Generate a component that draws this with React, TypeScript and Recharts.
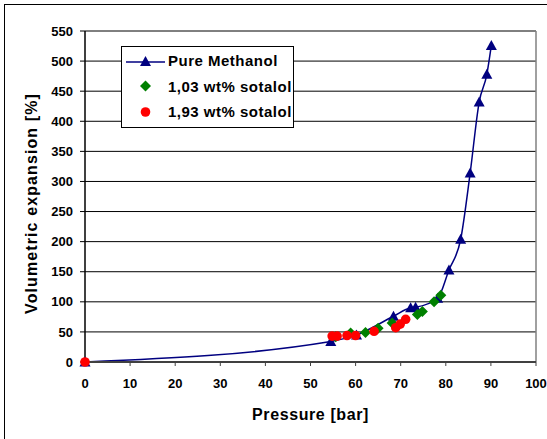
import {
  ComposedChart,
  Line,
  Scatter,
  XAxis,
  YAxis,
  CartesianGrid,
  Legend,
  ReferenceLine,
} from "recharts";

const xTicks = [0, 10, 20, 30, 40, 50, 60, 70, 80, 90, 100];
const yTicks = [0, 50, 100, 150, 200, 250, 300, 350, 400, 450, 500, 550];

// Pure Methanol
const methanolPressure = [0, 54.5, 60.2, 68.4, 72.2, 73.3, 78.2, 80.7, 83.3, 85.4, 87.4, 89.1, 90.1];
const methanolExpansion = [0, 34, 45, 76, 90, 91, 106, 153, 204, 314, 432, 478, 526];

// 1,03 wt% sotalol
const sot103Pressure = [55.6, 58.9, 62.2, 65.0, 68.1, 73.7, 74.8, 77.4, 78.9];
const sot103Expansion = [42, 48, 49, 56, 65, 79, 84, 100, 111];

// 1,93 wt% sotalol
const sot193Pressure = [0, 54.8, 55.9, 58.1, 60.0, 64.1, 68.9, 69.9, 71.1];
const sot193Expansion = [0, 43, 43, 44, 44, 51, 57, 63, 71];

const NAVY = "#000080";
const GREEN = "#008000";
const RED = "#ff0000";
const FONT = "Arial, 'Liberation Sans', sans-serif";

const toPoints = (xs: number[], ys: number[]) => xs.map((x, i) => ({ x, y: ys[i] }));

const methanol = toPoints(methanolPressure, methanolExpansion);
const sot103 = toPoints(sot103Pressure, sot103Expansion);
const sot193 = toPoints(sot193Pressure, sot193Expansion);

function Triangle({ cx, cy }: { cx?: number; cy?: number }) {
  if (cx == null || cy == null) return null;
  return <polygon points={`${cx},${cy - 5.5} ${cx + 5.5},${cy + 4.5} ${cx - 5.5},${cy + 4.5}`} fill={NAVY} />;
}

function Diamond({ cx, cy }: { cx?: number; cy?: number }) {
  if (cx == null || cy == null) return <g />;
  return <polygon points={`${cx},${cy - 5.5} ${cx + 5.5},${cy} ${cx},${cy + 5.5} ${cx - 5.5},${cy}`} fill={GREEN} />;
}

function Dot({ cx, cy }: { cx?: number; cy?: number }) {
  if (cx == null || cy == null) return <g />;
  return <circle cx={cx} cy={cy} r={4.8} fill={RED} />;
}

function LegendBox() {
  const row = { display: "flex", alignItems: "center", height: 25.5 } as const;
  const text = { fontFamily: FONT, fontWeight: 700, fontSize: 15, letterSpacing: 0.5, color: "#000" };
  return (
    <div
      style={{
        border: "1px solid #000",
        background: "#fff",
        width: 171,
        height: 79,
        boxSizing: "content-box",
        paddingTop: 1,
      }}
    >
      <div style={row}>
        <svg width={46} height={14}>
          <line x1={4} y1={8} x2={43} y2={8} stroke={NAVY} strokeWidth={1.5} />
          <Triangle cx={23.5} cy={7.5} />
        </svg>
        <span style={text}>Pure Methanol</span>
      </div>
      <div style={row}>
        <svg width={46} height={14}>
          <Diamond cx={23.5} cy={7} />
        </svg>
        <span style={text}>1,03 wt% sotalol</span>
      </div>
      <div style={row}>
        <svg width={46} height={14}>
          <Dot cx={23.5} cy={7} />
        </svg>
        <span style={text}>1,93 wt% sotalol</span>
      </div>
    </div>
  );
}

const tickStyle = { fill: "#000", fontSize: 13, fontWeight: 700, fontFamily: FONT };

export default function App() {
  return (
    <div style={{ position: "relative", width: 547, height: 439, background: "#fff", overflow: "hidden" }}>
      <style>{"body{margin:0}"}</style>
      <div
        style={{
          position: "absolute",
          left: 4,
          top: 4,
          width: 600,
          height: 500,
          border: "1px solid #000",
        }}
      />
      <ComposedChart
        width={547}
        height={439}
        margin={{ top: 31, right: 11, bottom: 0, left: 0 }}
        style={{ position: "absolute", left: 0, top: 0 }}
      >
        <CartesianGrid vertical={false} stroke="#000" strokeWidth={1} />
        <ReferenceLine x={100} stroke="#808080" strokeWidth={1.5} />
        <XAxis
          type="number"
          dataKey="x"
          domain={[0, 100]}
          ticks={xTicks}
          interval={0}
          height={77}
          tick={tickStyle}
          tickSize={4}
          tickMargin={13}
          axisLine={{ stroke: "#404040", strokeWidth: 2 }}
          tickLine={{ stroke: "#404040" }}
          allowDuplicatedCategory={false}
          label={{
            content: ({ viewBox }: any) => (
              <text
                x={viewBox.x + viewBox.width / 2}
                y={420}
                textAnchor="middle"
                fontFamily={FONT}
                fontWeight={700}
                fontSize={16}
                letterSpacing={0.6}
                fill="#000"
              >
                Pressure [bar]
              </text>
            ),
          }}
        />
        <YAxis
          type="number"
          dataKey="y"
          domain={[0, 550]}
          ticks={yTicks}
          interval={0}
          width={85}
          tick={tickStyle}
          tickSize={5}
          tickMargin={7}
          axisLine={{ stroke: "#000", strokeWidth: 1.5 }}
          tickLine={{ stroke: "#000" }}
          label={{
            content: ({ viewBox }: any) => {
              const cy = viewBox.y + viewBox.height / 2 + 7;
              return (
                <text
                  x={37}
                  y={cy}
                  transform={`rotate(-90 37 ${cy})`}
                  textAnchor="middle"
                  fontFamily={FONT}
                  fontWeight={700}
                  fontSize={16}
                  letterSpacing={1.1}
                  fill="#000"
                >
                  Volumetric expansion [%]
                </text>
              );
            },
          }}
        />
        <Legend
          layout="vertical"
          align="center"
          verticalAlign="middle"
          content={() => <LegendBox />}
          wrapperStyle={{ left: 121, top: 46, width: 173, height: 81 }}
        />
        <Line
          data={methanol}
          dataKey="y"
          type="monotone"
          stroke={NAVY}
          strokeWidth={1.5}
          dot={(p: any) => <Triangle key={`m-${p.index}`} cx={p.cx} cy={p.cy} />}
          activeDot={false}
          isAnimationActive={false}
          name="Pure Methanol"
        />
        <Scatter
          data={sot103}
          dataKey="y"
          shape={(p: any) => <Diamond cx={p.cx} cy={p.cy} />}
          isAnimationActive={false}
          zIndex={1000}
          name="1,03 wt% sotalol"
        />
        <Scatter
          data={sot193}
          dataKey="y"
          shape={(p: any) => <Dot cx={p.cx} cy={p.cy} />}
          isAnimationActive={false}
          zIndex={1001}
          name="1,93 wt% sotalol"
        />
      </ComposedChart>
    </div>
  );
}
